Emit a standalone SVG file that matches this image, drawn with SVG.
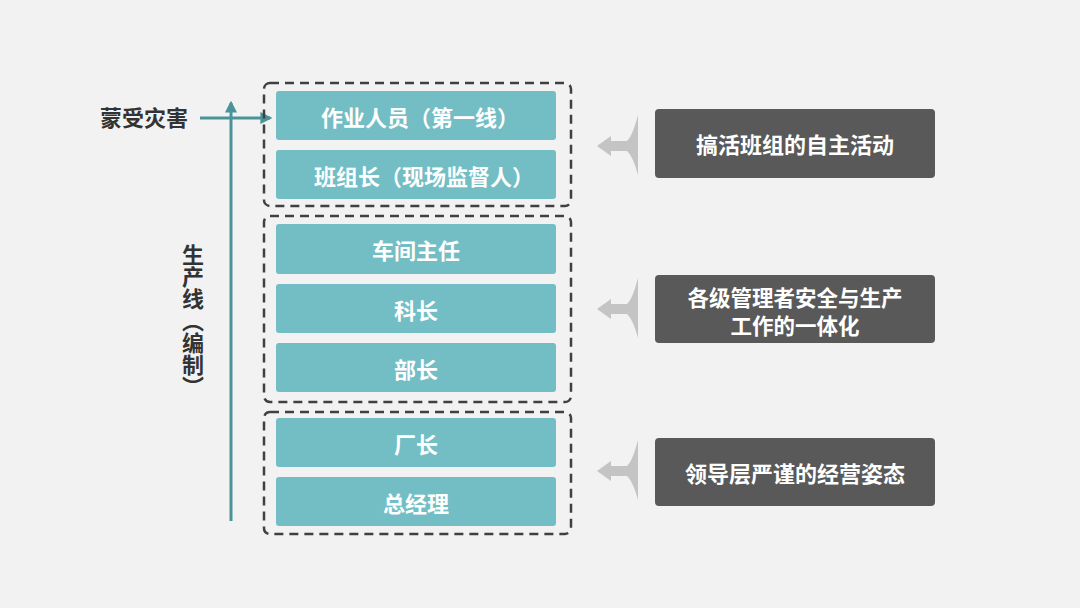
<svg xmlns="http://www.w3.org/2000/svg" width="1080" height="608" viewBox="0 0 1080 608">
<style>
.bg{fill:#f2f2f2}
.grp{fill:none;stroke:#404040;stroke-width:2.5;stroke-dasharray:9 6}
.box{fill:#72bec4}
.dark{fill:#595959}
.bt{font-family:"Noto Sans CJK SC","Noto Sans",sans-serif;font-weight:bold;font-size:22px;fill:#ffffff;text-anchor:middle;dominant-baseline:central}
.dt{font-size:21.5px}
.lt{font-family:"Noto Sans CJK SC","Noto Sans",sans-serif;font-weight:bold;font-size:22px;fill:#333333}
.line{stroke:#4a9399;stroke-width:3;fill:none}
.ga{fill:#c4c4c4}
</style>
<defs>
<marker id="ah" viewBox="0 0 10 10" refX="8" refY="5" markerWidth="4" markerHeight="4" orient="auto">
<path d="M0,0 L10,5 L0,10 z" fill="#4a9399"/>
</marker>
<path id="garrow" d="M0,0 L14,-10 L14,-5 L30,-5 C35,-10 38,-20 41,-31 L41,29 C38,18 35,10 30,5 L14,5 L14,10 Z"/>
</defs>
<rect class="bg" x="0" y="0" width="1080" height="608"/>

<g id="connectors">
<line class="line" x1="231" y1="521" x2="231" y2="103" marker-end="url(#ah)"/>
<line class="line" x1="200" y1="118" x2="270" y2="118" marker-end="url(#ah)"/>
<use href="#garrow" class="ga" x="597" y="146"/>
<use href="#garrow" class="ga" x="597" y="309"/>
<use href="#garrow" class="ga" x="597" y="471"/>
</g>

<g id="group1"><rect class="grp" x="264" y="83" width="307" height="123" rx="6"/></g>
<g id="group2"><rect class="grp" x="264" y="216" width="307" height="186" rx="6"/></g>
<g id="group3"><rect class="grp" x="264" y="412" width="307" height="122" rx="6"/></g>

<g id="n1"><rect class="box" x="276" y="91" width="280" height="49" rx="3"/><text class="bt" x="420" y="116">作业人员（第一线）</text></g>
<g id="n2"><rect class="box" x="276" y="150" width="280" height="49" rx="3"/><text class="bt" x="424" y="175">班组长（现场监督人）</text></g>
<g id="n3"><rect class="box" x="276" y="224" width="280" height="50" rx="3"/><text class="bt" x="416" y="249">车间主任</text></g>
<g id="n4"><rect class="box" x="276" y="284" width="280" height="49" rx="3"/><text class="bt" x="416" y="309">科长</text></g>
<g id="n5"><rect class="box" x="276" y="343" width="280" height="49" rx="3"/><text class="bt" x="416" y="368">部长</text></g>
<g id="n6"><rect class="box" x="276" y="418" width="280" height="49" rx="3"/><text class="bt" x="416" y="443">厂长</text></g>
<g id="n7"><rect class="box" x="276" y="477" width="280" height="49" rx="3"/><text class="bt" x="416" y="502">总经理</text></g>

<g id="d1"><rect class="dark" x="655" y="109" width="280" height="69" rx="4"/><text class="bt" x="795" y="143">搞活班组的自主活动</text></g>
<g id="d2"><rect class="dark" x="655" y="275" width="280" height="68" rx="4"/><text class="bt dt" x="795" y="296">各级管理者安全与生产</text><text class="bt dt" x="795" y="324">工作的一体化</text></g>
<g id="d3"><rect class="dark" x="655" y="438" width="280" height="68" rx="4"/><text class="bt" x="795" y="472">领导层严谨的经营姿态</text></g>

<g id="label-disaster"><text class="lt" x="100" y="126">蒙受灾害</text></g>
<g id="label-line"><text class="lt" x="193" y="244" style="writing-mode:vertical-rl;text-orientation:upright">生产线（编制）</text></g>
</svg>
